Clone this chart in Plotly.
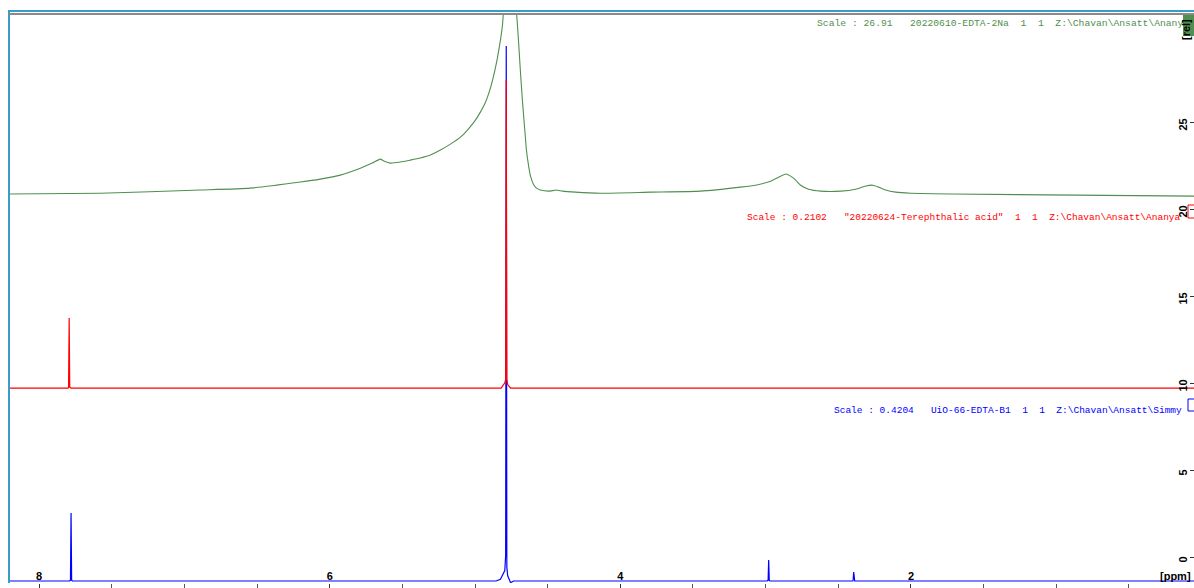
import plotly.graph_objects as go

# ---- axes ----
ppm_range = [8.207, 0.052]
rel_range = [-1.494, 31.21]
x_tick_vals = [8, 6, 4, 2]
x_tick_text = ["8", "6", "4", "2"]
y_tick_vals = [0, 5, 10, 15, 20, 25]
y_tick_text = ["0", "5", "10", "15", "20", "25"]

# ---- green spectrum: 20220610-EDTA-2Na ----
green_ppm = [8.207, 7.580, 6.891, 6.547, 6.202, 6.065, 5.927, 5.789, 5.707, 5.652, 5.624,
             5.583, 5.514, 5.445, 5.376, 5.307, 5.238, 5.169, 5.100, 5.052, 4.997, 4.963,
             4.928, 4.894, 4.866, 4.846, 4.825, 4.811, 4.804, 4.763, 4.715, 4.701, 4.688,
             4.674, 4.660, 4.646, 4.632, 4.618, 4.598, 4.577, 4.550, 4.494, 4.439, 4.398,
             4.309, 4.136, 3.792, 3.448, 3.172, 3.069, 2.966, 2.911, 2.862, 2.828, 2.793,
             2.759, 2.704, 2.621, 2.483, 2.380, 2.311, 2.263, 2.222, 2.174, 2.105, 2.001,
             1.726, 0.052]
green_int = [0.06, 0.11, 0.29, 0.40, 0.75, 0.92, 1.15, 1.55, 1.84, 2.07, 1.95,
             1.84, 1.90, 2.01, 2.13, 2.30, 2.59, 2.93, 3.33, 3.74, 4.31, 4.77,
             5.34, 6.15, 7.07, 7.87, 8.91, 9.77, 10.52, 13.5, 10.52, 8.91, 7.18,
             5.46, 4.02, 2.59, 1.72, 1.09, 0.63, 0.40, 0.29, 0.23, 0.29, 0.23,
             0.17, 0.11, 0.17, 0.23, 0.46, 0.57, 0.80, 1.03, 1.21, 1.09, 0.86,
             0.57, 0.34, 0.23, 0.23, 0.34, 0.52, 0.57, 0.46, 0.29, 0.17, 0.11,
             0.06, -0.06]
green_offset = 20.8

# ---- red spectrum: 20220624-Terephthalic acid ----
red_ppm = [8.207, 7.80, 7.797, 7.793, 7.789, 7.78, 4.82, 4.795, 4.789, 4.785, 4.781, 4.775,
           4.755, 0.052]
red_int = [0, 0, 0.05, 4.02, 0.05, 0, 0, 0.3, 0.5, 17.7, 0.5, 0.2, 0, 0]
red_offset = 9.71

# ---- blue spectrum: UiO-66-EDTA-B1 ----
blue_ppm = [8.207, 7.79, 7.784, 7.780, 7.776, 7.77, 4.855, 4.825, 4.795, 4.789, 4.785, 4.781,
            4.775, 4.755, 4.735, 2.99, 2.983, 2.979, 2.975, 2.97, 2.40, 2.398, 2.394, 2.390,
            2.387, 0.052]
blue_int = [0, 0, 0.05, 3.91, 0.05, 0, 0, 0.1, 0.6, 1.5, 30.75, 0.8, 0.3, -0.1, 0, 0,
            0.05, 1.21, 0.05, 0, 0, 0.03, 0.52, 0.03, 0, 0]
blue_offset = -1.38

green_label = "Scale : 26.91   20220610-EDTA-2Na  1  1  Z:\\Chavan\\Ansatt\\Ananya"
red_label = "Scale : 0.2102   \"20220624-Terephthalic acid\"  1  1  Z:\\Chavan\\Ansatt\\Ananya"
blue_label = "Scale : 0.4204   UiO-66-EDTA-B1  1  1  Z:\\Chavan\\Ansatt\\Simmy"

GREEN = "#4f8f4f"
RED = "#ff0000"
BLUE = "#0000ff"

W, H = 1194, 588
ML, MR, MT, MB = 9, 0, 14, 5
PW, PH = W - ML - MR, H - MT - MB


def px_x(p):
    return (p - ML) / PW


def px_y(p):
    return (H - MB - p) / PH


fig = go.Figure()
fig.add_trace(go.Scatter(x=green_ppm, y=[v + green_offset for v in green_int], mode="lines",
                         line=dict(color=GREEN, width=1.1, shape="spline", smoothing=0.5),
                         hoverinfo="skip"))
fig.add_trace(go.Scatter(x=blue_ppm, y=[v + blue_offset for v in blue_int], mode="lines",
                         line=dict(color=BLUE, width=1.2), hoverinfo="skip"))
fig.add_trace(go.Scatter(x=red_ppm, y=[v + red_offset for v in red_int], mode="lines",
                         line=dict(color=RED, width=1.2), hoverinfo="skip"))

mono = "Liberation Mono"
fig.add_annotation(x=px_x(815), y=px_y(24), xref="paper", yref="paper", text=green_label,
                   showarrow=False, xanchor="left", yanchor="middle",
                   font=dict(family=mono, size=9.7, color=GREEN))
fig.add_annotation(x=px_x(745), y=px_y(217), xref="paper", yref="paper", text=red_label,
                   showarrow=False, xanchor="left", yanchor="middle",
                   font=dict(family=mono, size=9.5, color=RED))
fig.add_annotation(x=px_x(832), y=px_y(410), xref="paper", yref="paper", text=blue_label,
                   showarrow=False, xanchor="left", yanchor="middle",
                   font=dict(family=mono, size=9.5, color=BLUE))

# right-edge legend boxes
fig.add_shape(type="rect", xref="paper", yref="paper", x0=px_x(1183), x1=px_x(1194),
              y0=px_y(36), y1=px_y(13), fillcolor=GREEN, line=dict(width=0), layer="above")
fig.add_shape(type="rect", xref="paper", yref="paper", x0=px_x(1188), x1=px_x(1196),
              y0=px_y(218), y1=px_y(205), fillcolor="rgba(0,0,0,0)",
              line=dict(color=RED, width=1), layer="above")
fig.add_shape(type="rect", xref="paper", yref="paper", x0=px_x(1188), x1=px_x(1196),
              y0=px_y(411), y1=px_y(399), fillcolor="rgba(0,0,0,0)",
              line=dict(color=BLUE, width=1), layer="above")

# frame lines
fig.add_shape(type="line", xref="paper", yref="paper", x0=px_x(9), x1=px_x(9),
              y0=0, y1=px_y(10), line=dict(color="#3a9ac8", width=2))
fig.add_shape(type="line", xref="paper", yref="paper", x0=px_x(8), x1=1,
              y0=px_y(11), y1=px_y(11), line=dict(color="#3a9ac8", width=2))
fig.add_shape(type="line", xref="paper", yref="paper", x0=px_x(9), x1=1,
              y0=px_y(14), y1=px_y(14), line=dict(color="#8a8a8a", width=2))

fig.add_annotation(x=px_x(1186), y=px_y(30), xref="paper", yref="paper", text="[rel]",
                   showarrow=False, textangle=-90, xanchor="center", yanchor="middle",
                   font=dict(family="Liberation Sans", size=11, color="black", weight="bold"))
fig.add_annotation(x=px_x(1193), y=px_y(576), xref="paper", yref="paper", text="[ppm]",
                   showarrow=False, xanchor="right", yanchor="middle",
                   font=dict(family="Liberation Sans", size=11, color="black", weight="bold"))

fig.update_layout(
    width=W, height=H, autosize=False,
    margin=dict(l=ML, r=MR, t=MT, b=MB, pad=0),
    paper_bgcolor="white", plot_bgcolor="white",
    showlegend=False,
    xaxis=dict(range=ppm_range, showgrid=False, zeroline=False, showline=False,
               tickmode="array", tickvals=x_tick_vals, ticktext=x_tick_text,
               ticks="outside", ticklen=6, tickwidth=1, tickcolor="#333",
               ticklabelposition="inside", ticklabelstandoff=-2,
               tickfont=dict(family="Liberation Sans", size=11, color="black", weight="bold"),
               minor=dict(dtick=0.5, tick0=0, ticks="outside", ticklen=4, tickcolor="#555",
                          showgrid=False)),
    yaxis=dict(range=rel_range, side="right", showgrid=False, zeroline=False, showline=False,
               tickmode="array", tickvals=y_tick_vals, ticktext=y_tick_text,
               ticks="inside", ticklen=4, tickcolor="#333", tickangle=-90,
               ticklabelposition="inside", ticklabelshift=4,
               tickfont=dict(family="Liberation Sans", size=11, color="black", weight="bold")),
)

fig.write_html("out.html")
